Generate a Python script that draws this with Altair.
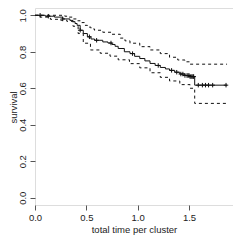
import altair as alt
import pandas as pd

# Kaplan-Meier estimate (step points)
km_t = [0.0, 0.10, 0.19, 0.27, 0.34, 0.37, 0.39, 0.41, 0.44, 0.47, 0.51, 0.545, 0.58, 0.66, 0.71, 0.75,
        0.78, 0.81, 0.87, 0.925, 0.97, 1.02, 1.07, 1.12, 1.17, 1.22, 1.27, 1.31, 1.36, 1.41, 1.46, 1.51,
        1.555, 1.87]
km_s = [1.0, 0.995, 0.99, 0.98, 0.972, 0.965, 0.955, 0.945, 0.918, 0.90, 0.882, 0.87, 0.863, 0.854, 0.848, 0.84,
        0.83, 0.818, 0.80, 0.79, 0.775, 0.763, 0.75, 0.736, 0.725, 0.714, 0.706, 0.698, 0.688, 0.678, 0.670, 0.664,
        0.617, 0.617]

# upper confidence band
up_t = [0.0, 0.29, 0.32, 0.37, 0.41, 0.44, 0.48, 0.51, 0.545, 0.58, 0.66, 0.75, 0.83, 0.876, 0.925, 1.02,
        1.12, 1.22, 1.31, 1.39, 1.46, 1.51, 1.87]
up_s = [1.0, 0.995, 0.99, 0.98, 0.97, 0.96, 0.945, 0.935, 0.925, 0.918, 0.907, 0.896, 0.875, 0.86, 0.847, 0.828,
        0.81, 0.79, 0.77, 0.755, 0.745, 0.732, 0.732]

# lower confidence band
lo_t = [0.0, 0.05, 0.15, 0.25, 0.31, 0.37, 0.42, 0.47, 0.54, 0.635, 0.73, 0.81, 0.92, 1.02, 1.12, 1.22,
        1.31, 1.41, 1.51, 1.555, 1.87]
lo_s = [1.0, 0.99, 0.978, 0.973, 0.967, 0.94, 0.90, 0.847, 0.81, 0.792, 0.776, 0.756, 0.735, 0.712, 0.685, 0.66,
        0.64, 0.62, 0.60, 0.517, 0.517]

# censoring times
cens_t = [0.05, 0.13, 0.27, 0.44, 0.53, 0.60, 0.74, 0.95, 1.20, 1.33, 1.38, 1.42, 1.44, 1.46, 1.48, 1.49,
          1.50, 1.51, 1.52, 1.53, 1.54, 1.545, 1.59, 1.63, 1.66, 1.69, 1.73, 1.86]


def step_at(t, ts, ss):
    v = ss[0]
    for a, b in zip(ts, ss):
        if a <= t:
            v = b
    return v


km = pd.DataFrame({"t": km_t, "s": km_s})
up = pd.DataFrame({"t": up_t, "s": up_s})
lo = pd.DataFrame({"t": lo_t, "s": lo_s})
cens = pd.DataFrame({"t": cens_t, "s": [step_at(t, km_t, km_s) for t in cens_t]})

xs = alt.Scale(domain=[0, 1.928], nice=False, zero=False)
ys = alt.Scale(domain=[-0.04, 1.04], nice=False, zero=False)

FONT = "Liberation Sans"
xax = alt.Axis(values=[0, 0.5, 1.0, 1.5], format=".1f", title="total time per cluster",
               grid=False, domain=False, tickSize=5, tickColor="#555", labelPadding=2, labelFlush=False,
               labelFontSize=9.5, titleFontSize=9.5, titleFontWeight="normal",
               titleX=99, titleY=24, titleAlign="center", titleBaseline="middle",
               labelColor="#222", titleColor="#222", labelFont=FONT, titleFont=FONT)
yax = alt.Axis(values=[0, 0.2, 0.4, 0.6, 0.8, 1.0], format=".1f", title="survival",
               grid=False, domain=False, tickSize=5, tickColor="#555", labelAngle=-90, labelFlush=False,
               labelAlign="center", labelBaseline="middle", labelPadding=8,
               labelFontSize=9.5, titleFontSize=9.5, titleFontWeight="normal",
               titleX=-22, titleY=99, titleAlign="center", titleBaseline="middle", titleAngle=-90,
               labelColor="#222", titleColor="#222", labelFont=FONT, titleFont=FONT)

base_x = alt.X("t:Q", scale=xs, axis=xax)
base_y = alt.Y("s:Q", scale=ys, axis=yax)

main = alt.Chart(km).mark_line(interpolate="step-after", color="#111", strokeWidth=1).encode(x=base_x, y=base_y)
upper = alt.Chart(up).mark_line(interpolate="step-after", color="#111", strokeWidth=1,
                                strokeDash=[3, 3]).encode(x=base_x, y=base_y)
lower = alt.Chart(lo).mark_line(interpolate="step-after", color="#111", strokeWidth=1,
                                strokeDash=[3, 3]).encode(x=base_x, y=base_y)
marks = alt.Chart(cens).mark_point(shape="M-1,0L1,0M0,-1L0,1", size=20, filled=False,
                                   color="#111", strokeWidth=1, opacity=1).encode(x=base_x, y=base_y)

chart = alt.layer(main, upper, lower, marks).properties(
    width=198, height=197,
    autosize=alt.AutoSizeParams(type="none"),
    padding={"left": 27, "top": 0, "right": 0, "bottom": 30},
).configure_view(stroke="#555", strokeWidth=1).configure(background="white")

chart.save("out.html", embed_options={"renderer": "svg", "actions": False})
